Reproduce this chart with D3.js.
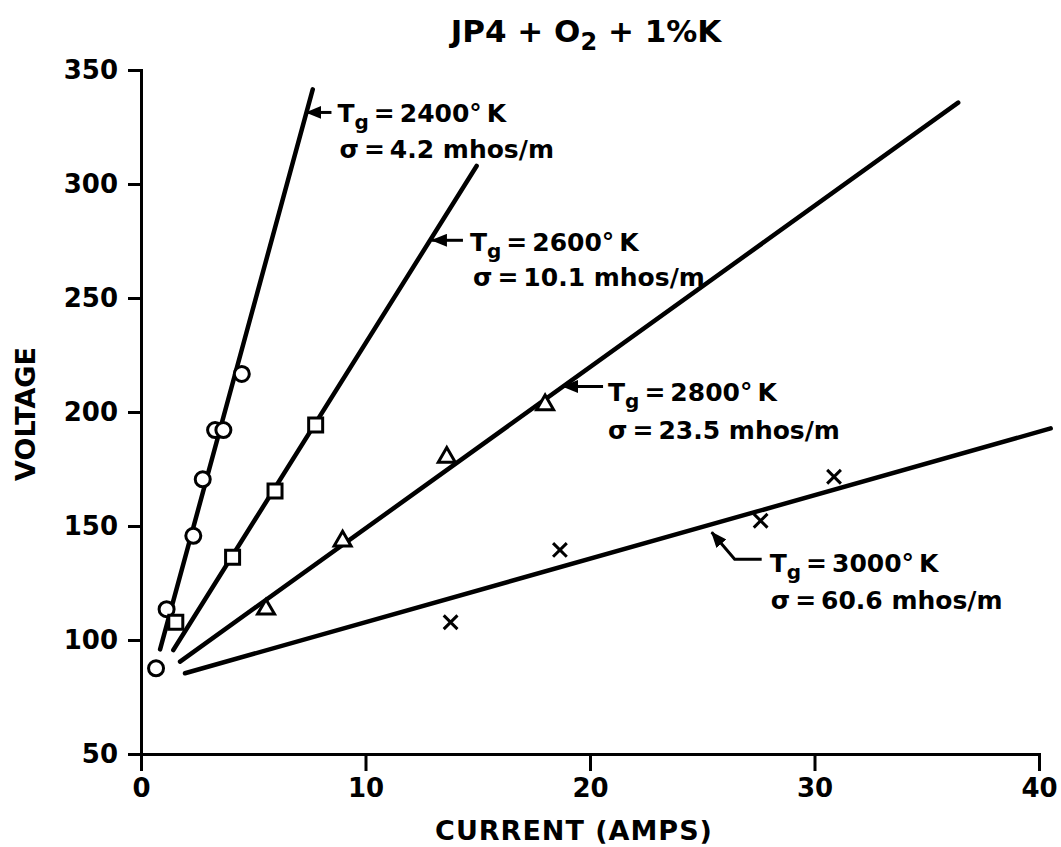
<!DOCTYPE html>
<html>
<head>
<meta charset="utf-8">
<script src="https://cdn.jsdelivr.net/npm/d3@7"></script>
<style>
  html, body { margin: 0; padding: 0; background: #fff; }
  svg { display: block; font-family: "DejaVu Sans", sans-serif; font-weight: bold; }
</style>
</head>
<body>
<div id="chart"></div>
<script>
// JP4 + O2 + 1%K — voltage vs current for four gas temperatures

const W = 1061, H = 847;

const X_DOMAIN = [0, 40];
const Y_DOMAIN = [50, 350];
const X_TICKS = [0, 10, 20, 30, 40];
const Y_TICKS = [50, 100, 150, 200, 250, 300, 350];

const TEMPS  = [2400, 2600, 2800, 3000];
const SIGMAS = ['4.2', '10.1', '23.5', '60.6'];
const SYMBOLS = ['circle', 'square', 'triangle', 'x'];

// measured points [amps, volts]
const PTS_2400 = [[0.67, 87.6], [1.14, 113.5], [2.33, 145.7], [2.75, 170.5], [3.30, 192.1], [3.67, 192.1], [4.49, 216.7]];
const PTS_2600 = [[1.55, 107.8], [4.08, 136.3], [5.97, 165.4], [7.78, 194.3]];
const PTS_2800 = [[5.57, 113.5], [8.98, 143.4], [13.62, 180.1], [18.0, 203.1]];
const PTS_3000 = [[13.79, 107.8], [18.66, 139.5], [27.6, 152.3], [30.87, 171.6]];

// hand-drawn fit lines, end points [amps, volts]
const FIT_2400 = [[0.85, 95.9], [7.65, 341.5]];
const FIT_2600 = [[1.44, 95.6], [14.95, 307.9]];
const FIT_2800 = [[1.74, 90.5], [36.4, 335.7]];
const FIT_3000 = [[1.96, 85.4], [40.52, 192.8]];

// current where each label arrow meets its line
const ARROW_AT = [7.37, 12.96, 18.8, 25.42];

const POINTS = [PTS_2400, PTS_2600, PTS_2800, PTS_3000];
const FITS = [FIT_2400, FIT_2600, FIT_2800, FIT_3000];

// label placement in px, relative to the arrow tip
const LABEL_LAYOUT = [
  { tipDy: 0, leader: [[25, 0]],            t: [31, 10], s: [33, 46] },
  { tipDy: 3, leader: [[31, 0]],            t: [38, 11], s: [41, 46] },
  { tipDy: 0, leader: [[40, 0]],            t: [45, 15], s: [45, 53] },
  { tipDy: 8, leader: [[23, 27], [50, 27]], t: [58, 40], s: [59, 77] },
];

const svg = d3.select('#chart').append('svg')
  .attr('width', W).attr('height', H);

const x = d3.scaleLinear().domain(X_DOMAIN).range([141, 1039]);
const y = d3.scaleLinear().domain(Y_DOMAIN).range([754, 70]);

svg.append('defs').append('marker')
  .attr('id', 'head')
  .attr('viewBox', '0 0 16 13')
  .attr('refX', 15).attr('refY', 6.5)
  .attr('markerWidth', 16).attr('markerHeight', 13)
  .attr('markerUnits', 'userSpaceOnUse')
  .attr('orient', 'auto-start-reverse')
  .append('path').attr('d', 'M0,0 L16,6.5 L0,13 Z').attr('fill', '#000');

// axes
const gx = svg.append('g').attr('transform', `translate(0,${y(50)})`)
  .call(d3.axisBottom(x).tickValues(X_TICKS).tickSizeOuter(0).tickSize(17).tickPadding(8));
const gy = svg.append('g').attr('transform', `translate(${x(0)},0)`)
  .call(d3.axisLeft(y).tickValues(Y_TICKS).tickSizeOuter(0).tickSize(13).tickPadding(10));

[gx, gy].forEach(g => {
  g.select('.domain').attr('stroke', '#000').attr('stroke-width', 3);
  g.selectAll('.tick line').attr('stroke', '#000').attr('stroke-width', 3);
  g.selectAll('.tick text')
    .attr('fill', '#000')
    .attr('font-family', '"DejaVu Sans", sans-serif')
    .attr('font-weight', 'bold')
    .attr('font-size', 26);
});

svg.append('text')
  .attr('x', 574).attr('y', 840).attr('text-anchor', 'middle')
  .attr('font-size', 27).attr('letter-spacing', 1)
  .text('CURRENT (AMPS)');

svg.append('text')
  .attr('transform', 'translate(35,414) rotate(-90)')
  .attr('text-anchor', 'middle')
  .attr('font-size', 27)
  .text('VOLTAGE');

const title = svg.append('text')
  .attr('x', 586).attr('y', 42).attr('text-anchor', 'middle')
  .attr('font-size', 31);
title.append('tspan').text('JP4 + O');
title.append('tspan').attr('font-size', 24).attr('dy', 8).text('2');
title.append('tspan').attr('dy', -8).text(' + 1%K');

// fit lines
const line = d3.line().x(d => x(d[0])).y(d => y(d[1]));
svg.append('g').selectAll('path').data(FITS).join('path')
  .attr('d', line)
  .attr('fill', 'none').attr('stroke', '#000')
  .attr('stroke-width', 4.5).attr('stroke-linecap', 'round');

// data markers
const SYM = {
  circle:   d3.symbol().type(d3.symbolCircle).size(177),
  square:   d3.symbol().type(d3.symbolSquare).size(196),
  triangle: d3.symbol().type(d3.symbolTriangle).size(125),
  x:        d3.symbol().type(d3.symbolX).size(125),
};
POINTS.forEach((pts, i) => {
  svg.append('g').selectAll('path').data(pts).join('path')
    .attr('transform', d => `translate(${x(d[0])},${y(d[1])})`)
    .attr('d', SYM[SYMBOLS[i]]())
    .attr('fill', SYMBOLS[i] === 'x' ? 'none' : '#fff')
    .attr('stroke', '#000')
    .attr('stroke-width', 3);
});

// labels with arrows
TEMPS.forEach((temp, i) => {
  const [a, b] = FITS[i];
  const amps = ARROW_AT[i];
  const volts = a[1] + (amps - a[0]) * (b[1] - a[1]) / (b[0] - a[0]);
  const L = LABEL_LAYOUT[i];
  const tx = x(amps), ty = y(volts) + L.tipDy;

  const pts = [[tx, ty], ...L.leader.map(p => [tx + p[0], ty + p[1]])];
  svg.append('path')
    .attr('d', d3.line()(pts))
    .attr('fill', 'none').attr('stroke', '#000').attr('stroke-width', 3)
    .attr('marker-start', 'url(#head)');

  const t1 = svg.append('text')
    .attr('x', tx + L.t[0]).attr('y', ty + L.t[1])
    .attr('font-size', 25);
  t1.append('tspan').text('T');
  t1.append('tspan').attr('dy', 7).attr('font-size', 20).text('g');
  t1.append('tspan').attr('dy', -7).text(`\u2009=\u2009${temp}°\u2009K`);

  svg.append('text')
    .attr('x', tx + L.s[0]).attr('y', ty + L.s[1])
    .attr('font-size', 25)
    .text(`σ\u2009=\u2009${SIGMAS[i]} mhos/m`);
});
</script>
</body>
</html>
